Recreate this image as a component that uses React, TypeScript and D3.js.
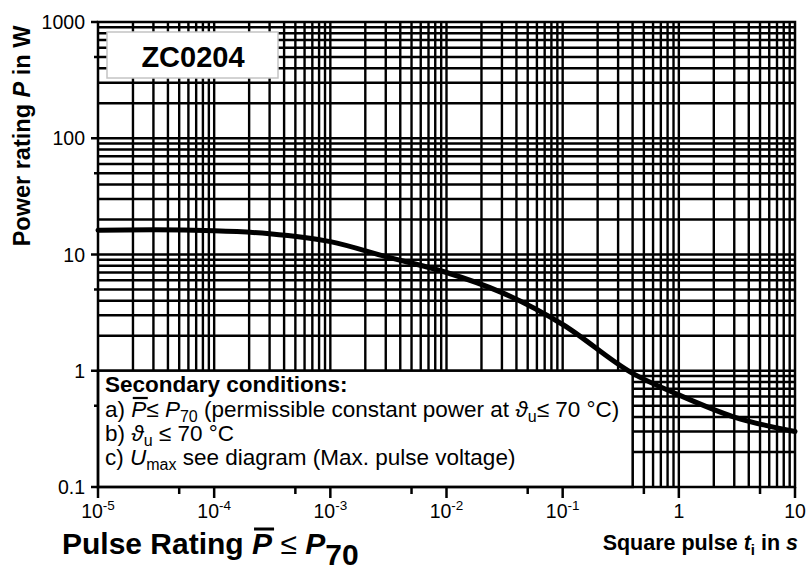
import React, { useEffect, useRef } from 'react';
import * as d3 from 'd3';

// pulse duration in s
const pulseTimes = [1e-5, 3e-5, 1e-4, 3e-4, 1e-3, 3e-3, 1e-2, 3e-2, 1e-1, 0.4, 1, 3, 10];
const powerRatings = [16.2, 16.3, 16.0, 15.1, 12.9, 9.6, 7.0, 4.7, 2.5, 0.95, 0.62, 0.40, 0.30];

const xTickValues = [1e-5, 1e-4, 1e-3, 1e-2, 1e-1, 1, 10];
const xTickBases = ['10', '10', '10', '10', '10', '1', '10'];
const xTickExps = ['-5', '-4', '-3', '-2', '-1', '', ''];
const yTickValues = [0.1, 1, 10, 100, 1000];
const yTickLabels = ['0.1', '1', '10', '100', '1000'];

const W = 809;
const H = 571;
const FONT = '"Liberation Sans", Arial, Helvetica, sans-serif';

type Seg = { t: string; it?: boolean; sub?: number; sup?: number; fs?: number; fw?: string };

function richText(parent: any, xp: number, yp: number, fs: number, weight: string, segs: Seg[], anchor = 'start') {
  const text = parent.append('text')
    .attr('x', xp).attr('y', yp)
    .attr('font-size', fs).attr('font-weight', weight)
    .attr('font-family', FONT).attr('text-anchor', anchor)
    .attr('fill', '#000').style('white-space', 'pre');
  let shift = 0;
  segs.forEach(s => {
    const target = s.sub ? s.sub : s.sup ? -s.sup : 0;
    const ts = text.append('tspan').attr('dy', target - shift).text(s.t);
    shift = target;
    if (s.it) ts.attr('font-style', 'italic');
    if (s.fs) ts.attr('font-size', s.fs);
    if (s.fw) ts.attr('font-weight', s.fw);
  });
  return text;
}

function overbar(parent: any, text: any, idx: number, yb: number, sw: number, dx: number) {
  const node = text.node() as SVGTextElement;
  const s = node.getStartPositionOfChar(idx);
  const e = node.getEndPositionOfChar(idx);
  parent.append('line')
    .attr('x1', s.x + dx).attr('x2', e.x + dx)
    .attr('y1', yb).attr('y2', yb)
    .attr('stroke', '#000').attr('stroke-width', sw);
}

export default function App() {
  const svgRef = useRef<SVGSVGElement>(null);

  useEffect(() => {
    if (!svgRef.current) return;
    const svg = d3.select(svgRef.current);
    svg.selectAll('*').remove();

    const left = 98, right = 795, top = 22, bottom = 487;
    const x = d3.scaleLog().domain([1e-5, 10]).range([left, right]);
    const y = d3.scaleLog().domain([0.1, 1000]).range([bottom, top]);

    svg.append('rect').attr('width', W).attr('height', H).attr('fill', '#fff');

    // full log grid
    const grid = svg.append('g').attr('stroke', '#000').attr('stroke-width', 2.4);
    x.ticks().filter(t => x(t) > left + 1 && x(t) < right - 1).forEach(t => {
      grid.append('line').attr('x1', x(t)).attr('x2', x(t)).attr('y1', top).attr('y2', bottom);
    });
    y.ticks().filter(t => y(t) > top + 1 && y(t) < bottom - 1).forEach(t => {
      grid.append('line').attr('y1', y(t)).attr('y2', y(t)).attr('x1', left).attr('x2', right);
    });

    // type label box
    svg.append('rect')
      .attr('x', 107).attr('y', 32).attr('width', 171).attr('height', 46)
      .attr('fill', '#fff').attr('stroke', '#c4c4c4').attr('stroke-width', 1.5);
    svg.append('text')
      .attr('x', 193).attr('y', 67).attr('text-anchor', 'middle')
      .attr('font-family', FONT).attr('font-weight', 700).attr('font-size', 29)
      .text('ZC0204');

    // secondary conditions box
    svg.append('rect')
      .attr('x', x(1e-5)).attr('y', y(1))
      .attr('width', x(0.4) - x(1e-5)).attr('height', y(0.1) - y(1))
      .attr('fill', '#fff').attr('stroke', '#000').attr('stroke-width', 2.4);

    const bx = 105;
    richText(svg, bx, 392, 22.5, '700', [{ t: 'Secondary conditions:' }]);
    const lineA = richText(svg, bx, 417, 22.5, '400', [
      { t: 'a) ' }, { t: 'P', it: true }, { t: '≤ ' }, { t: 'P', it: true },
      { t: '70', sub: 5, fs: 16 }, { t: ' (permissible constant power at ' },
      { t: 'ϑ', it: true }, { t: 'u', sub: 5, fs: 16 }, { t: '≤ 70 °C)' },
    ]);
    overbar(svg, lineA, 3, 417 - 19, 2.2, 1.5);
    richText(svg, bx, 441, 22.5, '400', [
      { t: 'b) ' }, { t: 'ϑ', it: true }, { t: 'u', sub: 5, fs: 16 }, { t: ' ≤ 70 °C' },
    ]);
    richText(svg, bx, 465, 22.5, '400', [
      { t: 'c) ' }, { t: 'U', it: true }, { t: 'max', sub: 5, fs: 16 }, { t: ' see diagram (Max. pulse voltage)' },
    ]);

    // curve
    const line = d3.line<number>()
      .x((d, i) => x(pulseTimes[i]))
      .y(d => y(d))
      .curve(d3.curveMonotoneX);
    svg.append('path')
      .datum(powerRatings)
      .attr('d', line)
      .attr('fill', 'none').attr('stroke', '#000')
      .attr('stroke-width', 5).attr('stroke-linecap', 'round');

    // frame
    svg.append('rect')
      .attr('x', left).attr('y', top).attr('width', right - left).attr('height', bottom - top)
      .attr('fill', 'none').attr('stroke', '#000').attr('stroke-width', 2.5);

    // ticks
    const ticks = svg.append('g').attr('stroke', '#000').attr('stroke-width', 2.5);
    xTickValues.forEach(t => {
      ticks.append('line').attr('x1', x(t)).attr('x2', x(t)).attr('y1', bottom).attr('y2', bottom + 11);
      if (t * 5 < 10.1) {
        ticks.append('line').attr('x1', x(t * 5)).attr('x2', x(t * 5)).attr('y1', bottom).attr('y2', bottom + 7);
      }
    });
    yTickValues.forEach(t => {
      ticks.append('line').attr('y1', y(t)).attr('y2', y(t)).attr('x1', left).attr('x2', left - 7);
      if (t * 5 < 1001) {
        ticks.append('line').attr('y1', y(t * 5)).attr('y2', y(t * 5)).attr('x1', left).attr('x2', left - 4);
      }
    });

    // tick labels
    xTickValues.forEach((t, i) => {
      const segs: Seg[] = [{ t: xTickBases[i] }];
      if (xTickExps[i]) segs.push({ t: xTickExps[i], sup: 8, fs: 13.5 });
      richText(svg, x(t), 518, 19.5, '400', segs, 'middle');
    });
    yTickValues.forEach((t, i) => {
      svg.append('text')
        .attr('x', 85).attr('y', y(t)).attr('dy', '0.36em')
        .attr('text-anchor', 'end')
        .attr('font-family', FONT).attr('font-size', 19.5)
        .text(yTickLabels[i]);
    });

    // axis titles
    const yTitle = svg.append('g').attr('transform', 'translate(30,136) rotate(-90)');
    richText(yTitle, 0, 0, 23.5, '700', [
      { t: 'Power rating ' }, { t: 'P', it: true }, { t: ' in W' },
    ], 'middle');

    richText(svg, 798, 550, 21.5, '700', [
      { t: 'Square pulse ' }, { t: 't', it: true }, { t: 'i', sub: 5, fs: 15 },
      { t: ' in ' }, { t: 's', it: true },
    ], 'end');

    const title = richText(svg, 62, 554, 30, '700', [
      { t: 'Pulse Rating ' }, { t: 'P', it: true }, { t: ' ≤ ', fw: '400' },
      { t: 'P', it: true }, { t: '70', sub: 11 },
    ]);
    overbar(svg, title, 13, 554 - 25, 3, 2);
  }, []);

  return (
    <svg
      ref={svgRef}
      width={W}
      height={H}
      viewBox={`0 0 ${W} ${H}`}
      style={{ position: 'absolute', left: 0, top: 0, display: 'block' }}
    />
  );
}
